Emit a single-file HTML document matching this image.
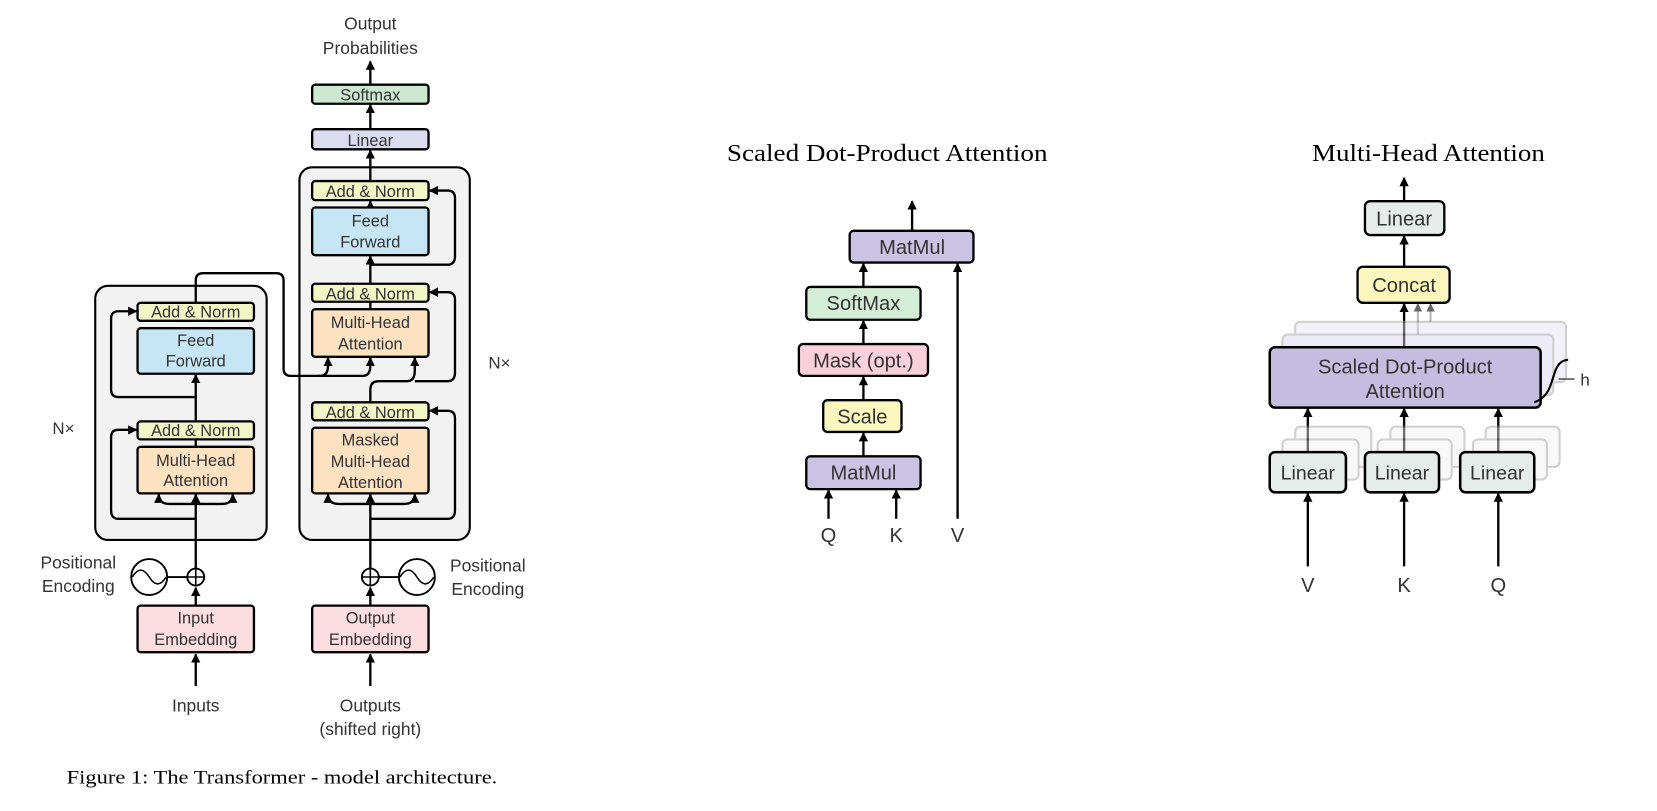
<!DOCTYPE html>
<html><head><meta charset="utf-8"><style>
html,body{margin:0;padding:0;background:#fff;}
svg{display:block;}
.t{font-family:"Liberation Sans",sans-serif;fill:#333;text-anchor:middle;}
.s{font-family:"Liberation Serif",serif;fill:#000;}
</style></head><body>
<svg width="1657" height="811" viewBox="0 0 1566 766" preserveAspectRatio="none" xmlns="http://www.w3.org/2000/svg">
<defs>
<marker id="a" viewBox="0 0 10 10" refX="9" refY="5" markerWidth="4" markerHeight="4" orient="auto"><path d="M0,0 L10,5 L0,10 z" fill="#000"/></marker>
</defs>
<g stroke="#000" stroke-width="2" fill="none">
<rect x="90" y="270" width="162" height="240" rx="12" fill="#f2f2f2"/>
<rect x="283" y="158" width="161" height="352" rx="12" fill="#f2f2f2"/>
</g>
<g stroke="#000" stroke-width="2.2" fill="none" marker-end="url(#a)">
<path d="M185 648 V618"/>
<path d="M185 572 V555"/>
<path d="M185 537 V467"/>
<path d="M185 476 H160 Q150 476 150 467"/>
<path d="M185 476 H210 Q220 476 220 467"/>
<path d="M185 490 H112 Q105 490 105 482 V413 Q105 406 112 406 H129"/>
<path d="M185 422 V354"/>
<path d="M185 375 H112 Q105 375 105 368 V301 Q105 294 112 294 H129"/>
<path d="M185 286 V265 Q185 258 192 258 H261 Q268 258 268 265 V348 Q268 355 275 355 H303 Q310 355 310 345 V338" />
<path d="M300 355 H343 Q350 355 350 345 V338"/>
<path d="M350 648 V618"/>
<path d="M350 572 V555"/>
<path d="M350 537 V467"/>
<path d="M350 476 H320 Q310 476 310 467"/>
<path d="M350 476 H382 Q392 476 392 467"/>
<path d="M350 490 H423 Q430 490 430 482 V395 Q430 388 423 388 H406"/>
<path d="M350 380 V368 Q350 360 358 360 H385 Q392 360 392 350 V338"/>
<path d="M392 360 H423 Q430 360 430 352 V283 Q430 276 423 276 H406"/>
<path d="M350 292 V242"/>
<path d="M350 250 H423 Q430 250 430 242 V187 Q430 180 423 180 H406"/>
<path d="M350 196 V190"/>
<path d="M350 171 V142"/>
<path d="M350 122 V99"/>
<path d="M350 80 V58"/>
<path d="M783 490 V463"/>
<path d="M847 490 V463"/>
<path d="M816 431 V409"/>
<path d="M816 378 V356"/>
<path d="M816 325 V303"/>
<path d="M816 271 V249"/>
<path d="M862 218 V190"/>
<path d="M905 490 V249"/>
<path d="M1236 535 V466"/>
<path d="M1327 535 V466"/>
<path d="M1416 535 V466"/>
<path d="M1236 427 V386"/>
<path d="M1327 427 V386"/>
<path d="M1416 427 V386"/>
<path d="M1327 328 V287"/>
<path d="M1327 252 V223"/>
<path d="M1327 190 V168"/>
</g>
<g stroke="#888" stroke-width="2" fill="none" marker-end="url(#a)" opacity="0.6">
<path d="M1340 316 V287"/><path d="M1352 304 V287"/>
</g>
<g stroke="#000" stroke-width="1.8" fill="#fff">
<line x1="158" y1="545" x2="177" y2="545"/>
<circle cx="185" cy="545" r="8"/>
<circle cx="141" cy="545" r="17"/>
<line x1="358" y1="545" x2="377" y2="545"/>
<circle cx="350" cy="545" r="8"/>
<circle cx="394" cy="545" r="17"/>
</g>
<g stroke="#000" stroke-width="1.5" fill="none">
<path d="M177 545 H193 M185 537 V553 M342 545 H358 M350 537 V553"/>
<path d="M125 545 Q133 532 141 545 Q149 558 157 545"/>
<path d="M378 545 Q386 532 394 545 Q402 558 410 545"/>
</g>
<g stroke="#000" stroke-width="2.2">
<rect x="130" y="286" width="110" height="17" rx="3" fill="#f2f5c6"/>
<rect x="130" y="310" width="110" height="43" rx="3" fill="#c6e6f6"/>
<rect x="130" y="398" width="110" height="17" rx="3" fill="#f2f5c6"/>
<rect x="130" y="422" width="110" height="44" rx="3" fill="#fde2c2"/>
<rect x="130" y="572" width="110" height="44" rx="3" fill="#fbdde2"/>
<rect x="295" y="171" width="110" height="18" rx="3" fill="#f2f5c6"/>
<rect x="295" y="196" width="110" height="45" rx="3" fill="#c6e6f6"/>
<rect x="295" y="268" width="110" height="17" rx="3" fill="#f2f5c6"/>
<rect x="295" y="292" width="110" height="45" rx="3" fill="#fde2c2"/>
<rect x="295" y="380" width="110" height="17" rx="3" fill="#f2f5c6"/>
<rect x="295" y="404" width="110" height="62" rx="3" fill="#fde2c2"/>
<rect x="295" y="572" width="110" height="44" rx="3" fill="#fbdde2"/>
<rect x="295" y="122" width="110" height="19" rx="3" fill="#dcdcf0"/>
<rect x="295" y="80" width="110" height="18" rx="3" fill="#cce8d0"/>
<rect x="803" y="218" width="117" height="30" rx="4" fill="#cbc3e3"/>
<rect x="762" y="271" width="108" height="31" rx="4" fill="#d4edd6"/>
<rect x="755" y="325" width="122" height="30" rx="4" fill="#fad0dc"/>
<rect x="778" y="378" width="74" height="30" rx="4" fill="#fbf7bf"/>
<rect x="762" y="431" width="108" height="31" rx="4" fill="#cbc3e3"/>
<rect x="1290" y="190" width="75" height="32" rx="5" fill="#e6ece9"/>
<rect x="1283" y="252" width="87" height="34" rx="5" fill="#fbf7bf"/>
</g>
<g stroke="#999" stroke-width="2" opacity="0.45">
<rect x="1224" y="304" width="256" height="57" rx="5" fill="#e6e2f0"/>
<rect x="1212" y="316" width="256" height="57" rx="5" fill="#d9d3ea"/>
<rect x="1224" y="403" width="72" height="38" rx="5" fill="#eef1ef"/>
<rect x="1212" y="415" width="72" height="38" rx="5" fill="#eef1ef"/>
<rect x="1314" y="403" width="70" height="38" rx="5" fill="#eef1ef"/>
<rect x="1302" y="415" width="70" height="38" rx="5" fill="#eef1ef"/>
<rect x="1404" y="403" width="70" height="38" rx="5" fill="#eef1ef"/>
<rect x="1392" y="415" width="70" height="38" rx="5" fill="#eef1ef"/>
</g>
<g stroke="#000" stroke-width="2.4">
<rect x="1200" y="328" width="256" height="57" rx="5" fill="#c5bde0"/>
<rect x="1200" y="427" width="72" height="38" rx="5" fill="#e6ece9"/>
<rect x="1290" y="427" width="70" height="38" rx="5" fill="#e6ece9"/>
<rect x="1380" y="427" width="70" height="38" rx="5" fill="#e6ece9"/>
</g>
<path d="M1450 380 Q1462 376 1466 362 L1470 350 Q1474 340 1482 340" stroke="#000" stroke-width="2" fill="none"/>
<line x1="1473" y1="358" x2="1488" y2="358" stroke="#555" stroke-width="1.5"/>
<g class="t" font-size="15.5">
<text x="185" y="300">Add &amp; Norm</text>
<text x="185" y="327">Feed</text><text x="185" y="346">Forward</text>
<text x="185" y="412">Add &amp; Norm</text>
<text x="185" y="440">Multi-Head</text><text x="185" y="459">Attention</text>
<text x="185" y="589">Input</text><text x="185" y="609">Embedding</text>
<text x="350" y="186">Add &amp; Norm</text>
<text x="350" y="214">Feed</text><text x="350" y="234">Forward</text>
<text x="350" y="283">Add &amp; Norm</text>
<text x="350" y="310">Multi-Head</text><text x="350" y="330">Attention</text>
<text x="350" y="395">Add &amp; Norm</text>
<text x="350" y="421">Masked</text><text x="350" y="441">Multi-Head</text><text x="350" y="461">Attention</text>
<text x="350" y="589">Output</text><text x="350" y="609">Embedding</text>
<text x="350" y="138">Linear</text>
<text x="350" y="95">Softmax</text>
<text x="350" y="28" font-size="16.5">Output</text><text x="350" y="51" font-size="16.5">Probabilities</text>
<text x="185" y="672" font-size="16.5">Inputs</text>
<text x="350" y="672" font-size="16.5">Outputs</text><text x="350" y="694" font-size="16.5">(shifted right)</text>
<text x="74" y="537" font-size="16.5">Positional</text><text x="74" y="559" font-size="16.5">Encoding</text>
<text x="461" y="540" font-size="16.5">Positional</text><text x="461" y="562" font-size="16.5">Encoding</text>
<text x="60" y="410" font-size="16">N×</text>
<text x="472" y="348" font-size="16">N×</text>
<text x="862" y="240" font-size="19">MatMul</text>
<text x="816" y="293" font-size="19">SoftMax</text>
<text x="816" y="347" font-size="19">Mask (opt.)</text>
<text x="815" y="400" font-size="19">Scale</text>
<text x="816" y="453" font-size="19">MatMul</text>
<text x="783" y="512" font-size="19">Q</text><text x="847" y="512" font-size="19">K</text><text x="905" y="512" font-size="19">V</text>
<text x="1327" y="213" font-size="19">Linear</text>
<text x="1327" y="276" font-size="19">Concat</text>
<text x="1328" y="353" font-size="19">Scaled Dot-Product</text><text x="1328" y="376" font-size="19">Attention</text>
<text x="1236" y="453" font-size="18.5">Linear</text><text x="1325" y="453" font-size="18.5">Linear</text><text x="1415" y="453" font-size="18.5">Linear</text>
<text x="1236" y="559" font-size="19">V</text><text x="1327" y="559" font-size="19">K</text><text x="1416" y="559" font-size="19">Q</text>
<text x="1498" y="364" font-size="16">h</text>
</g>
<text class="s" x="687" y="152" font-size="23" textLength="303" lengthAdjust="spacingAndGlyphs">Scaled Dot-Product Attention</text>
<text class="s" x="1240" y="152" font-size="23" textLength="220" lengthAdjust="spacingAndGlyphs">Multi-Head Attention</text>
<text class="s" x="63" y="740" font-size="18" textLength="407" lengthAdjust="spacingAndGlyphs">Figure 1: The Transformer - model architecture.</text>
</svg>
</body></html>
